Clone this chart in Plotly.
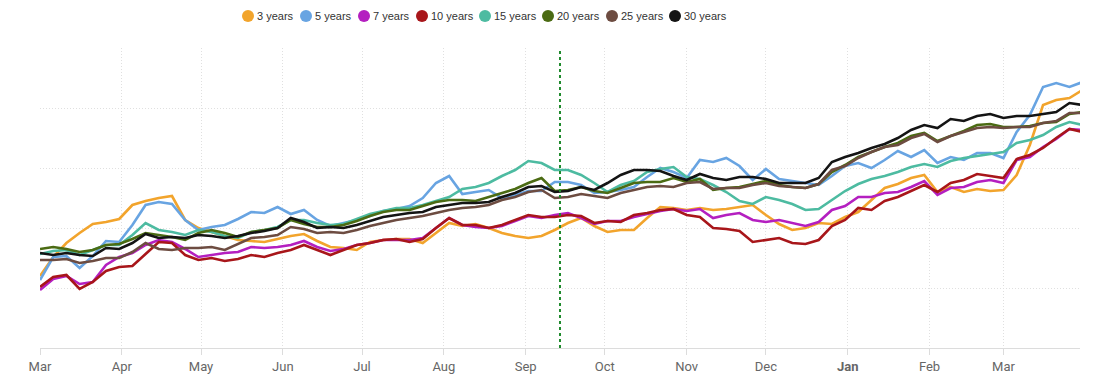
import pandas as pd
import plotly.graph_objects as go

# ---- data (index points) ----
dates = pd.date_range("2022-03-01", periods=80, freq="5D")

y3 = [72,91,105,115,124,126,129,143,147,150,
      152,128,120,116,112,108,107,106,109,112,
      114,107,101,100,98,106,108,109,109,105,
      115,125,122,124,120,115,112,110,112,118,
      125,130,122,116,118,118,130,141,140,138,
      140,138,139,141,143,133,124,118,120,125,
      124,131,136,148,160,164,170,173,156,161,
      156,159,157,158,173,203,243,248,250,258]
y5 = [68,91,92,80,92,107,106,123,143,146,
      144,128,118,121,123,129,136,135,141,134,
      138,128,122,125,128,132,137,139,142,150,
      165,172,154,156,158,150,153,157,157,166,
      166,163,155,156,158,161,171,180,176,170,
      188,186,190,182,168,179,169,167,165,163,
      172,182,185,180,188,197,191,198,185,191,
      188,195,195,190,216,233,261,265,261,266]
y7 = [58,69,72,64,66,83,91,95,103,108,
      106,99,91,93,95,96,101,100,101,103,
      107,101,97,99,103,105,108,108,108,110,
      120,130,123,121,120,122,127,132,130,133,
      135,130,124,127,127,131,134,137,139,137,
      139,130,133,135,128,126,128,125,122,126,
      138,142,151,151,155,156,161,167,153,160,
      161,166,168,165,188,191,201,209,219,218]
y10 = [61,71,73,59,66,77,81,82,94,106,
       105,93,88,90,87,89,93,91,95,98,
       103,98,93,98,103,105,108,109,106,109,
       120,130,123,123,120,123,128,133,131,131,
       133,132,125,127,126,133,135,138,139,133,
       131,120,119,117,106,108,110,105,104,108,
       122,128,140,138,147,151,157,163,156,165,
       168,174,172,170,189,193,200,210,219,216]
y15 = [94,97,98,93,98,103,103,113,125,118,
       116,113,118,116,112,110,116,118,121,128,
       128,125,123,124,129,134,137,140,140,143,
       147,151,159,161,165,172,178,187,185,178,
       178,173,165,156,163,167,176,179,181,171,
       169,163,156,147,144,151,148,144,138,139,
       148,157,164,169,172,176,181,184,181,187,
       190,192,194,196,205,208,213,221,226,223]
y20 = [99,101,99,96,98,103,104,109,115,113,
       111,108,115,118,115,111,116,118,120,128,
       124,121,121,123,127,132,136,138,138,142,
       146,148,148,147,151,155,159,165,170,157,
       158,161,157,155,160,165,166,166,170,166,
       169,158,160,161,164,167,163,161,160,164,
       176,183,191,196,201,205,212,215,207,212,
       217,223,224,221,221,222,225,226,234,236]
y25 = [88,88,89,85,87,90,90,96,105,99,
       98,100,100,101,98,104,110,111,113,121,
       119,115,116,115,118,122,125,128,130,132,
       135,138,140,141,143,148,151,156,158,150,
       151,154,152,150,155,158,161,162,161,165,
       166,159,160,160,163,165,162,161,160,164,
       178,182,190,196,201,203,210,214,206,212,
       216,220,221,220,221,221,225,227,235,235]
y30 = [95,93,95,93,92,100,99,105,114,110,
       111,110,113,112,110,112,115,117,120,130,
       126,120,121,120,123,127,131,133,135,136,
       141,143,145,145,146,151,155,161,162,156,
       157,161,158,165,173,178,178,177,172,168,
       174,170,168,171,171,169,165,165,165,170,
       186,191,195,200,204,210,218,223,220,229,
       227,232,234,230,232,232,234,236,245,243]

names = ["3 years", "5 years", "7 years", "10 years",
         "15 years", "20 years", "25 years", "30 years"]
series = [y3, y5, y7, y10, y15, y20, y25, y30]
colors = ["#f2a42c", "#68a4e2", "#b41fc0", "#a8161a",
          "#4dbba1", "#4b6b13", "#6d4c41", "#141414"]

tick_vals = pd.date_range("2022-03-01", "2023-03-01", freq="MS")
tick_text = ["Mar", "Apr", "May", "Jun", "Jul", "Aug", "Sep", "Oct",
             "Nov", "Dec", "<b>Jan</b>", "Feb", "Mar"]
marker_date = "2022-09-14"

# ---- figure ----
PAGE_OFF = 8                      # default body margin of the html page
W, H = 1095, 387
plot_left, plot_right, plot_top, plot_bottom = 40, 1080, 48, 348
L = plot_left - PAGE_OFF
T = plot_top - PAGE_OFF
R = W + PAGE_OFF - plot_right
B = H + PAGE_OFF - plot_bottom
pw, ph = plot_right - plot_left, plot_bottom - plot_top

fig = go.Figure()
for name, ys, c in zip(names, series, colors):
    fig.add_trace(go.Scatter(x=dates, y=ys, mode="lines", name=name,
                             line=dict(color=c, width=2.6),
                             showlegend=False))

fig.add_shape(type="line", xref="x", yref="paper", x0=marker_date,
              x1=marker_date, y0=0, y1=1,
              line=dict(color="#1f8a2d", width=2, dash="dot"))

# legend drawn as coloured dots + text (Highcharts style)
legend_dot_px = [248, 306, 364, 422, 485, 548, 612, 675]
legend_y_px = 16
for name, c, dx in zip(names, colors, legend_dot_px):
    xp = (dx - plot_left) / pw
    yp = (plot_bottom - legend_y_px) / ph
    fig.add_shape(type="circle", xref="paper", yref="paper",
                  xsizemode="pixel", ysizemode="pixel",
                  xanchor=xp, yanchor=yp, x0=-6, x1=6, y0=-6, y1=6,
                  fillcolor=c, line=dict(width=0))
    fig.add_annotation(x=(dx + 7 - plot_left) / pw, y=yp,
                       xref="paper", yref="paper",
                       text=name, showarrow=False, xanchor="left",
                       yanchor="middle",
                       font=dict(family="Liberation Sans, Arial", size=11,
                                 color="#333333"))

fig.update_layout(
    width=W, height=H,
    margin=dict(l=L, r=R, t=T, b=B, autoexpand=False),
    paper_bgcolor="white", plot_bgcolor="white",
    showlegend=False,
    font=dict(family="Roboto, Arial", color="#666666"),
)
fig.update_xaxes(
    type="date", range=["2022-03-01", "2023-03-30"],
    tickvals=tick_vals, ticktext=tick_text,
    tickfont=dict(family="Roboto, Arial", size=13, color="#666666"),
    showgrid=True, gridcolor="#e0e0e0", griddash="1px,2px", gridwidth=1,
    showline=True, linecolor="#dcdcdc", linewidth=1,
    ticks="outside", ticklen=6, tickcolor="#dcdcdc",
    zeroline=False,
)
fig.update_yaxes(
    range=[0, 300], dtick=60, showticklabels=False,
    showgrid=True, gridcolor="#e0e0e0", griddash="1px,2px", gridwidth=1,
    zeroline=False, showline=False,
)

fig.write_html("out.html")
